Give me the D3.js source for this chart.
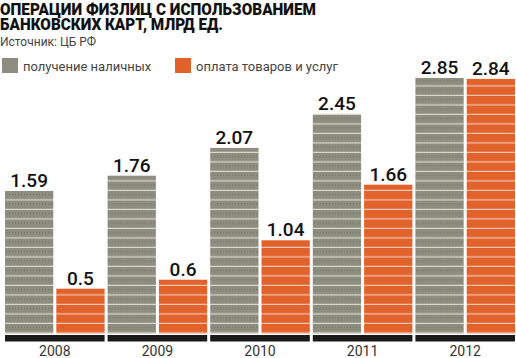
<!DOCTYPE html>
<html><head><meta charset="utf-8">
<script src="https://cdn.jsdelivr.net/npm/d3@7"></script>
<style>body{margin:0;background:#fff}svg{display:block}</style>
</head><body>
<script>
const years = ["2008","2009","2010","2011","2012"];
const seriesNames = ["получение наличных","оплата товаров и услуг"];
const cash = [1.59,1.76,2.07,2.45,2.85];
const payments = [0.5,0.6,1.04,1.66,2.84];
const titleLines = ["ОПЕРАЦИИ ФИЗЛИЦ С ИСПОЛЬЗОВАНИЕМ","БАНКОВСКИХ КАРТ, МЛРД ЕД."];
const sourceText = "Источник: ЦБ РФ";

const W=516,H=358;
const colors=["#8e8e80","#e2622c"];
const stripeColors=["#d8d8d0","#f4c4b0"];
const svg=d3.select("body").append("svg").attr("width",W).attr("height",H);
const defs=svg.append("defs");
colors.forEach((c,i)=>{
  const p=defs.append("pattern").attr("id","pat"+i).attr("patternUnits","userSpaceOnUse")
    .attr("width",3).attr("height",9.5).attr("y",333.5);
  p.append("rect").attr("width",3).attr("height",9.5).attr("fill",c);
  p.append("rect").attr("y",8.3).attr("width",3).attr("height",1.2).attr("fill",stripeColors[i]);
  if(i===0) p.append("rect").attr("x",1).attr("y",3).attr("width",1).attr("height",1).attr("fill","#6c6c62");
});

const x0=d3.scaleBand().domain(years).range([5,5+5*102.6]).paddingInner(0);
const groupW=x0.step()-3;
const x1=d3.scaleBand().domain([0,1]).range([0,groupW]).paddingInner(3/(groupW/2+1.5));
const y=d3.scaleLinear().domain([0,2.85]).range([333.5,78]);

const data=years.map((yr,i)=>({yr,vals:[cash[i],payments[i]]}));
const g=svg.append("g");
const grp=g.selectAll("g.grp").data(data).join("g").attr("transform",d=>`translate(${x0(d.yr)},0)`);
grp.selectAll("rect.bar").data(d=>d.vals.map((v,k)=>({v,k}))).join("rect")
  .attr("x",d=>x1(d.k)).attr("width",x1.bandwidth())
  .attr("y",d=>y(d.v)).attr("height",d=>y(0)-y(d.v))
  .attr("fill",d=>`url(#pat${d.k})`);
grp.selectAll("text.val").data(d=>d.vals.map((v,k)=>({v,k}))).join("text")
  .attr("x",d=>x1(d.k)+x1.bandwidth()/2).attr("y",d=>y(d.v)-4)
  .attr("text-anchor","middle").attr("font-family","Roboto").attr("font-weight","500")
  .attr("font-size",19).attr("fill","#111").text(d=>String(d.v));
grp.append("rect").attr("x",0).attr("y",335).attr("width",groupW).attr("height",6.5).attr("fill","#1a1a1a");

const xAxis=d3.axisBottom(x0).tickSize(0).tickPadding(0);
const ax=svg.append("g").attr("transform","translate(-1.5,0)").call(xAxis);
ax.select(".domain").remove();
ax.selectAll("text").attr("font-family","Roboto").attr("font-size",14).attr("fill","#333").attr("dy",null).attr("y",355.5);

// title (one multi-line text)
const title=svg.append("text").attr("font-family","Roboto").attr("font-weight","900")
  .attr("font-size",16.5).attr("fill","#111");
title.selectAll("tspan").data(titleLines).join("tspan")
  .attr("x",0).attr("y",(d,i)=>14.5+i*15)
  .attr("textLength",(d,i)=>[316,223][i]).attr("lengthAdjust","spacingAndGlyphs").text(d=>d);
svg.append("text").attr("x",0).attr("y",45.5).attr("font-family","Roboto").attr("font-size",12)
  .attr("fill","#444").text(sourceText);

// legend
const legX=[2,175];
seriesNames.forEach((n,i)=>{
  svg.append("rect").attr("x",legX[i]).attr("y",58).attr("width",16).attr("height",15).attr("fill",colors[i]);
  svg.append("text").attr("x",legX[i]+21).attr("y",71).attr("font-family","Roboto").attr("font-size",13)
    .attr("fill","#444").text(n);
});
</script>
</body></html>
